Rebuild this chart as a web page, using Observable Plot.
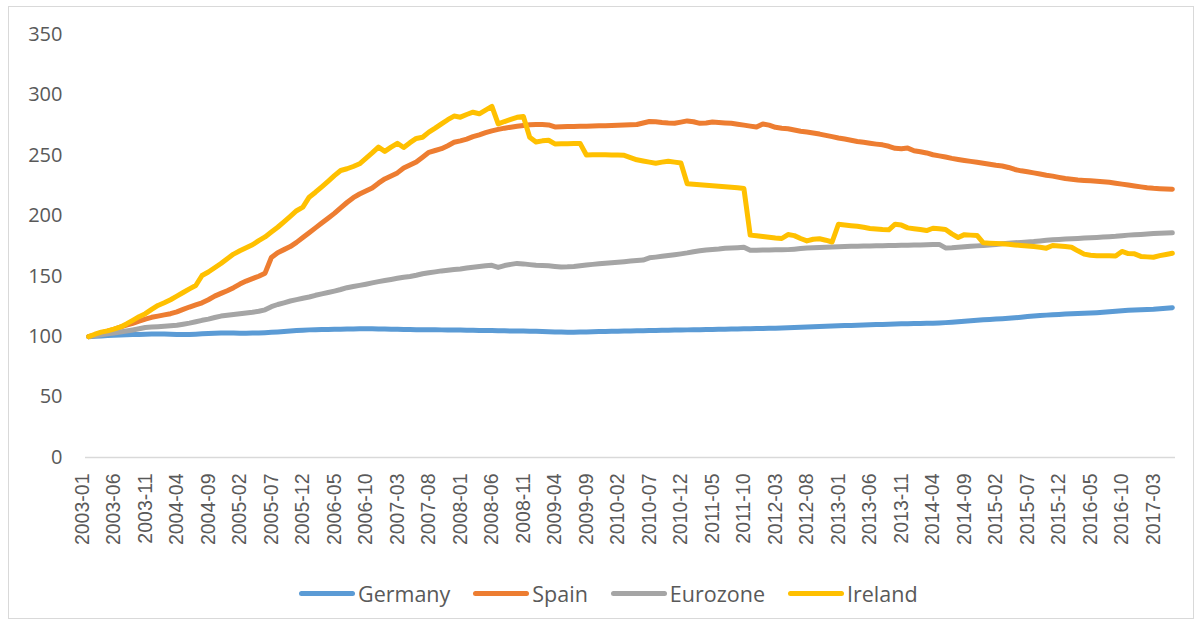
<!DOCTYPE html>
<html>
<head>
<meta charset="utf-8">
<script src="https://cdn.jsdelivr.net/npm/d3@7"></script>
<script src="https://cdn.jsdelivr.net/npm/@observablehq/plot@0.6"></script>
<style>
  body { margin: 0; background: #fff; }
  #wrap { position: relative; width: 1199px; height: 626px; overflow: hidden; }
  #frame { position: absolute; left: 8px; top: 6px; width: 1186px; height: 613px; border: 1px solid #d9d9d9; box-sizing: border-box; }
  #chart { position: absolute; left: 0; top: 0; }
  #legend { position: absolute; left: 299px; top: 580px; height: 26px; display: flex; align-items: center;
            font-family: "Open Sans", sans-serif; font-size: 21.5px; color: #595959; }
  .item { display: flex; align-items: center; margin-right: 23px; }
  .sw { width: 56px; height: 5px; border-radius: 3px; margin-right: 3px; }
</style>
</head>
<body>
<div id="wrap">
  <div id="frame"></div>
  <div id="chart"></div>
  <div id="legend"></div>
</div>
<script>
const seriesNames = ["Germany", "Spain", "Eurozone", "Ireland"];
const seriesColors = ["#5B9BD5", "#ED7D31", "#A5A5A5", "#FFC000"];
const yTicks = [0, 50, 100, 150, 200, 250, 300, 350];
const xTickLabels = ["2003-01","2003-06","2003-11","2004-04","2004-09","2005-02","2005-07","2005-12","2006-05","2006-10",
  "2007-03","2007-08","2008-01","2008-06","2008-11","2009-04","2009-09","2010-02","2010-07","2010-12",
  "2011-05","2011-10","2012-03","2012-08","2013-01","2013-06","2013-11","2014-04","2014-09","2015-02",
  "2015-07","2015-12","2016-05","2016-10","2017-03"];
// monthly categories 2003-01 .. 2017-05
const months = d3.utcMonth.range(new Date(Date.UTC(2003, 0, 1)), new Date(Date.UTC(2017, 5, 1))).map(d3.utcFormat("%Y-%m"));

const germany = [
  100, 100.3, 100.6, 100.9, 101.1, 101.3, 101.5, 101.7, 101.8, 102.0,
  102.1, 102.2, 102.2, 102.0, 101.8, 101.7, 101.8, 102.0, 102.3, 102.6,
  102.8, 103.0, 103.0, 103.0, 102.9, 102.9, 103.0, 103.1, 103.3, 103.6,
  103.9, 104.3, 104.6, 105.0, 105.3, 105.6, 105.8, 105.9, 106.0, 106.1,
  106.2, 106.3, 106.4, 106.5, 106.5, 106.5, 106.4, 106.3, 106.2, 106.1,
  106.0, 105.9, 105.8, 105.8, 105.7, 105.7, 105.6, 105.5, 105.5, 105.4,
  105.3, 105.2, 105.1, 105.0, 105.0, 104.9, 104.8, 104.7, 104.6, 104.6,
  104.5, 104.4, 104.3, 104.1, 103.9, 103.8, 103.7, 103.7, 103.8, 103.9,
  104.0, 104.2, 104.3, 104.4, 104.5, 104.6, 104.7, 104.8, 104.9, 105.0,
  105.1, 105.2, 105.3, 105.4, 105.5, 105.6, 105.7, 105.8, 105.9, 106.0,
  106.1, 106.2, 106.3, 106.4, 106.5, 106.6, 106.7, 106.8, 106.9, 107.0,
  107.2, 107.4, 107.6, 107.8, 108.0, 108.2, 108.4, 108.6, 108.8, 109.0,
  109.2, 109.3, 109.4, 109.6, 109.8, 110.0, 110.1, 110.3, 110.4, 110.6,
  110.7, 110.8, 110.9, 111.0, 111.1, 111.3, 111.6, 111.9, 112.3, 112.7,
  113.1, 113.5, 113.9, 114.2, 114.5, 114.8, 115.2, 115.6, 116.1, 116.6,
  117.0, 117.4, 117.8, 118.1, 118.4, 118.7, 118.9, 119.1, 119.3, 119.5,
  119.8, 120.2, 120.6, 121.0, 121.4, 121.8, 122.1, 122.3, 122.5, 122.7,
  123.1, 123.5, 124.0
];
const spain = [
  100, 101.5, 103, 104.5, 106, 107.8, 109.5, 111, 112.8, 114.5,
  116, 117, 118, 119, 120.5, 122.5, 124.5, 126.3, 128, 130.5,
  133.5, 135.8, 138, 140.5, 143.5, 146, 148, 150, 152.5, 165.5,
  169.5, 172, 174.5, 178, 182, 186, 190, 194, 198, 202,
  206.5, 211, 215, 218, 220.5, 223, 227, 230.5, 233, 235.5,
  239.5, 242, 244.5, 248.5, 252.5, 254, 255.5, 258, 260.8, 262,
  263.5, 265.5, 267, 268.8, 270.3, 271.5, 272.5, 273.3, 274, 274.7,
  275.3, 275.6, 275.5, 275.2, 273.5, 273.6, 273.8, 273.9, 274, 274.1,
  274.3, 274.5, 274.6, 274.8, 275, 275.2, 275.3, 275.5, 276.8, 278,
  277.8, 277.2, 276.8, 276.6, 277.5, 278.5, 277.8, 276.5, 276.8, 277.6,
  277.2, 276.8, 276.5, 275.8, 275, 274.2, 273.4, 276, 275, 273.2,
  272.5, 272, 271, 270, 269.3, 268.5, 267.6, 266.5, 265.5, 264.4,
  263.5, 262.5, 261.5, 260.8, 260, 259.3, 258.7, 257.5, 255.8, 255.4,
  256, 253.8, 253, 252, 250.5, 249.6, 248.6, 247.5, 246.6, 245.8,
  245, 244.3, 243.5, 242.7, 241.8, 241.2, 240, 238.3, 237.2, 236.4,
  235.5, 234.6, 233.6, 232.8, 231.8, 230.8, 230.2, 229.6, 229.2, 228.9,
  228.6, 228.2, 227.7, 227, 226.2, 225.4, 224.7, 223.9, 223.2, 222.7,
  222.4, 222.2, 222
];
const eurozone = [
  100, 100.8, 101.6, 102.3, 103, 103.8, 104.6, 105.5, 106.5, 107.5,
  107.9, 108.2, 108.6, 109, 109.5, 110.3, 111.2, 112.3, 113.5, 114.5,
  115.8, 117, 117.7, 118.3, 119, 119.6, 120.2, 121, 122.2, 124.8,
  126.6, 128, 129.5, 130.6, 131.8, 132.8, 134.2, 135.4, 136.5, 137.7,
  139, 140.5, 141.5, 142.4, 143.4, 144.5, 145.5, 146.4, 147.3, 148.3,
  149.2, 149.8, 150.8, 152, 152.8, 153.6, 154.4, 155, 155.5, 156,
  156.8, 157.5, 158, 158.6, 159, 157.3, 158.8, 159.8, 160.6, 160.2,
  159.6, 159, 158.8, 158.6, 158.1, 157.7, 157.8, 158.1, 158.6, 159.2,
  159.8, 160.3, 160.8, 161.2, 161.6, 162, 162.5, 163, 163.4, 165.2,
  165.8, 166.5, 167.2, 167.8, 168.5, 169.3, 170.3, 171, 171.7, 172.1,
  172.5, 173.1, 173.3, 173.6, 174, 171.4, 171.5, 171.6, 171.7, 171.8,
  171.8, 172, 172.4, 172.9, 173.3, 173.6, 173.8, 174, 174.2, 174.4,
  174.5, 174.7, 174.8, 174.9, 175, 175.2, 175.3, 175.4, 175.5, 175.6,
  175.7, 175.8, 175.9, 176, 176.2, 176.3, 173.4, 173.5, 173.9, 174.3,
  174.7, 175.1, 175.4, 175.8, 176.3, 176.8, 177.2, 177.6, 178, 178.4,
  178.7, 179.2, 179.7, 180.1, 180.4, 180.7, 181, 181.3, 181.6, 181.9,
  182.1, 182.4, 182.7, 183, 183.5, 184, 184.3, 184.6, 185, 185.3,
  185.5, 185.7, 185.9
];
const ireland = [
  100, 102, 103.7, 104.8, 106.2, 107.8, 110.5, 113.5, 116.5, 119,
  122.5, 125.8, 128, 130.5, 133.5, 136.5, 139.5, 142.3, 150.6, 153.5,
  157, 160.5, 164.5, 168.3, 171, 173.5, 176, 179.5, 182.5, 186.5,
  190.5, 195, 199.5, 204.2, 207.2, 215.4, 219.5, 224, 228.5, 233.2,
  237.5, 238.9, 240.8, 243, 247.5, 252, 256.8, 253.3, 256.8, 260,
  256.5, 260.5, 264, 265, 269.2, 272.5, 276, 279.5, 282.5, 281.6,
  283.8, 285.7, 284.4, 287.5, 290.5, 276, 278, 279.8, 281.5, 282.2,
  265, 261, 262, 262.5, 259.5, 259.6, 259.7, 259.8, 259.9, 250.3,
  250.5, 250.5, 250.4, 250.3, 250.2, 250, 248.2, 246.3, 245.3, 244.4,
  243.5, 244.4, 245.2, 244.4, 243.6, 226.5, 226, 225.6, 225.2, 224.8,
  224.4, 224, 223.6, 223.2, 222.5, 184, 183.4, 182.8, 182.2, 181.6,
  181.2, 184.5, 183.6, 181.2, 179.2, 180.6, 181, 179.8, 178.3, 193,
  192.4, 191.8, 191.3, 190.5, 189.5, 189, 188.6, 188.4, 193, 192.3,
  190, 189.3, 188.6, 187.8, 189.7, 189.2, 188.6, 185, 182, 184.4,
  184, 183.7, 177.6, 177.3, 177, 176.8, 176.4, 175.9, 175.5, 175,
  174.5, 174, 173.2, 175.4, 175, 174.6, 174, 171, 168.3, 167.3,
  167, 167, 166.9, 166.7, 170.5, 168.7, 168.5, 166.4, 166, 165.7,
  167, 168, 169
];

const seriesValues = [germany, spain, eurozone, ireland];
const rows = [];
seriesNames.forEach((name, s) => {
  seriesValues[s].forEach((v, i) => rows.push({month: months[i], value: v, series: name}));
});

const chart = Plot.plot({
  width: 1199,
  height: 560,
  marginLeft: 85,
  marginRight: 24,
  marginTop: 34,
  marginBottom: 103,
  style: {fontFamily: "'Open Sans', sans-serif", fontSize: "20px", color: "#595959", background: "transparent", overflow: "visible"},
  x: {type: "point", domain: months, padding: 0.5, axis: null},
  y: {domain: [0, 350], axis: null},
  color: {domain: seriesNames, range: seriesColors},
  marks: [
    Plot.ruleY([0], {stroke: "#D9D9D9", strokeWidth: 1.5}),
    Plot.axisY(yTicks, {tickSize: 0, tickPadding: 23, fontSize: 20, fill: "#595959", label: null}),
    Plot.text(xTickLabels, {x: d => d, frameAnchor: "bottom", rotate: -90, textAnchor: "end", dy: 16,
      fontSize: 19.5, fontFamily: "'Liberation Sans', sans-serif", fill: "#595959"}),
    Plot.line(rows, {x: "month", y: "value", z: "series", stroke: "series", strokeWidth: 5,
      strokeLinejoin: "round", strokeLinecap: "round"})
  ]
});
document.getElementById("chart").appendChild(chart);

const legend = document.getElementById("legend");
seriesNames.forEach((name, i) => {
  const item = document.createElement("div");
  item.className = "item";
  const sw = document.createElement("div");
  sw.className = "sw";
  sw.style.background = seriesColors[i];
  const label = document.createElement("span");
  label.textContent = name;
  item.appendChild(sw);
  item.appendChild(label);
  legend.appendChild(item);
});
</script>
</body>
</html>
